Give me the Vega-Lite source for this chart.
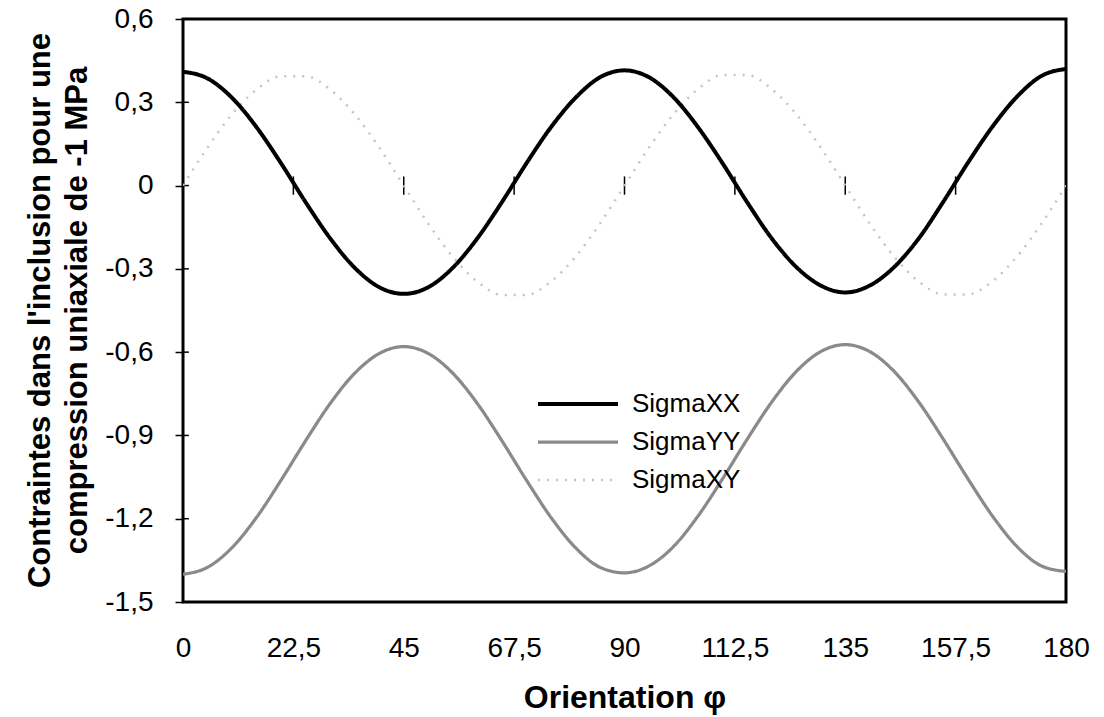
{
  "$schema": "https://vega.github.io/schema/vega-lite/v6.json",
  "width": 883,
  "height": 583,
  "autosize": {"type": "none"},
  "padding": {"left": 183, "top": 19, "right": 38, "bottom": 115},
  "background": "white",
  "config": {
    "font": "Liberation Sans",
    "view": {"stroke": "black", "strokeWidth": 3},
    "axis": {"grid": false, "domain": false, "ticks": false, "labelColor": "black", "titleColor": "black", "labelFont": "Liberation Sans", "titleFont": "Liberation Sans"}
  },
  "datasets": {
    "curves": [
      {"phi": 0, "SigmaXX": 0.41, "SigmaYY": -1.40, "SigmaXY": 0},
      {"phi": 5, "SigmaXX": 0.386, "SigmaYY": -1.375, "SigmaXY": 0.137},
      {"phi": 10, "SigmaXX": 0.316, "SigmaYY": -1.304, "SigmaXY": 0.257},
      {"phi": 15, "SigmaXX": 0.21, "SigmaYY": -1.195, "SigmaXY": 0.346},
      {"phi": 20, "SigmaXX": 0.08, "SigmaYY": -1.061, "SigmaXY": 0.394},
      {"phi": 25, "SigmaXX": -0.06, "SigmaYY": -0.919, "SigmaXY": 0.394},
      {"phi": 30, "SigmaXX": -0.19, "SigmaYY": -0.785, "SigmaXY": 0.346},
      {"phi": 35, "SigmaXX": -0.296, "SigmaYY": -0.676, "SigmaXY": 0.257},
      {"phi": 40, "SigmaXX": -0.366, "SigmaYY": -0.605, "SigmaXY": 0.137},
      {"phi": 45, "SigmaXX": -0.39, "SigmaYY": -0.58, "SigmaXY": 0},
      {"phi": 50, "SigmaXX": -0.366, "SigmaYY": -0.605, "SigmaXY": -0.137},
      {"phi": 55, "SigmaXX": -0.296, "SigmaYY": -0.676, "SigmaXY": -0.257},
      {"phi": 60, "SigmaXX": -0.19, "SigmaYY": -0.785, "SigmaXY": -0.346},
      {"phi": 65, "SigmaXX": -0.06, "SigmaYY": -0.919, "SigmaXY": -0.394},
      {"phi": 70, "SigmaXX": 0.08, "SigmaYY": -1.061, "SigmaXY": -0.394},
      {"phi": 75, "SigmaXX": 0.21, "SigmaYY": -1.195, "SigmaXY": -0.346},
      {"phi": 80, "SigmaXX": 0.316, "SigmaYY": -1.304, "SigmaXY": -0.257},
      {"phi": 85, "SigmaXX": 0.39, "SigmaYY": -1.375, "SigmaXY": -0.137},
      {"phi": 90, "SigmaXX": 0.415, "SigmaYY": -1.395, "SigmaXY": 0},
      {"phi": 95, "SigmaXX": 0.39, "SigmaYY": -1.37, "SigmaXY": 0.137},
      {"phi": 100, "SigmaXX": 0.318, "SigmaYY": -1.30, "SigmaXY": 0.257},
      {"phi": 105, "SigmaXX": 0.21, "SigmaYY": -1.19, "SigmaXY": 0.348},
      {"phi": 110, "SigmaXX": 0.08, "SigmaYY": -1.056, "SigmaXY": 0.398},
      {"phi": 115, "SigmaXX": -0.06, "SigmaYY": -0.914, "SigmaXY": 0.398},
      {"phi": 120, "SigmaXX": -0.19, "SigmaYY": -0.78, "SigmaXY": 0.348},
      {"phi": 125, "SigmaXX": -0.293, "SigmaYY": -0.67, "SigmaXY": 0.257},
      {"phi": 130, "SigmaXX": -0.36, "SigmaYY": -0.598, "SigmaXY": 0.137},
      {"phi": 135, "SigmaXX": -0.385, "SigmaYY": -0.573, "SigmaXY": 0},
      {"phi": 140, "SigmaXX": -0.36, "SigmaYY": -0.598, "SigmaXY": -0.137},
      {"phi": 145, "SigmaXX": -0.293, "SigmaYY": -0.67, "SigmaXY": -0.257},
      {"phi": 150, "SigmaXX": -0.19, "SigmaYY": -0.78, "SigmaXY": -0.346},
      {"phi": 155, "SigmaXX": -0.058, "SigmaYY": -0.914, "SigmaXY": -0.392},
      {"phi": 160, "SigmaXX": 0.082, "SigmaYY": -1.056, "SigmaXY": -0.392},
      {"phi": 165, "SigmaXX": 0.212, "SigmaYY": -1.19, "SigmaXY": -0.345},
      {"phi": 170, "SigmaXX": 0.32, "SigmaYY": -1.30, "SigmaXY": -0.256},
      {"phi": 175, "SigmaXX": 0.395, "SigmaYY": -1.37, "SigmaXY": -0.137},
      {"phi": 180, "SigmaXX": 0.42, "SigmaYY": -1.39, "SigmaXY": 0}
    ],
    "xticks": [{"t": 0}, {"t": 22.5}, {"t": 45}, {"t": 67.5}, {"t": 90}, {"t": 112.5}, {"t": 135}, {"t": 157.5}, {"t": 180}],
    "yticks": [{"v": -1.5}, {"v": -1.2}, {"v": -0.9}, {"v": -0.6}, {"v": -0.3}, {"v": 0}, {"v": 0.3}, {"v": 0.6}]
  },
  "layer": [
    {
      "mark": {"type": "rule", "color": "black", "strokeWidth": 1.5},
      "encoding": {
        "y": {"datum": 0, "type": "quantitative", "scale": {"domain": [-1.5, 0.6], "nice": false, "zero": false}}
      }
    },
    {
      "data": {"name": "xticks"},
      "mark": {"type": "rule", "color": "black", "strokeWidth": 1.5},
      "encoding": {
        "x": {"field": "t", "type": "quantitative"},
        "y": {"datum": -0.033, "type": "quantitative"},
        "y2": {"datum": 0.033}
      }
    },
    {
      "data": {"name": "yticks"},
      "mark": {"type": "rule", "color": "black", "strokeWidth": 1.5},
      "encoding": {
        "y": {"field": "v", "type": "quantitative"},
        "x": {"datum": 0, "type": "quantitative"},
        "x2": {"datum": 1.2}
      }
    },
    {
      "data": {"name": "curves"},
      "transform": [{"fold": ["SigmaXY", "SigmaYY", "SigmaXX"], "as": ["serie", "val"]}],
      "mark": {"type": "line", "interpolate": "monotone", "clip": true},
      "encoding": {
        "x": {
          "field": "phi", "type": "quantitative",
          "scale": {"domain": [0, 180], "nice": false, "zero": false},
          "axis": {
            "values": [0, 22.5, 45, 67.5, 90, 112.5, 135, 157.5, 180],
            "labelExpr": "replace(toString(datum.value), '.', ',')",
            "labelFontSize": 28, "labelPadding": 32, "labelFlush": false,
            "title": "Orientation φ", "titleFontSize": 32, "titleFontWeight": "bold", "titlePadding": 20
          }
        },
        "y": {
          "field": "val", "type": "quantitative",
          "scale": {"domain": [-1.5, 0.6], "nice": false, "zero": false},
          "axis": {
            "values": [-1.5, -1.2, -0.9, -0.6, -0.3, 0, 0.3, 0.6],
            "labelExpr": "replace(toString(datum.value), '.', ',')",
            "labelFontSize": 28, "labelPadding": 22,
            "ticks": true, "tickSize": 8, "tickWidth": 1.5, "tickColor": "black",
            "title": ["Contraintes dans l'inclusion pour une", "compression uniaxiale de -1 MPa"],
            "titleFontSize": 31, "titleFontWeight": "bold", "titleLineHeight": 37,
            "titleAngle": -90, "titleX": -143, "titleY": 291, "titleAlign": "center", "titleBaseline": "middle"
          }
        },
        "color": {
          "field": "serie", "type": "nominal",
          "scale": {"domain": ["SigmaXX", "SigmaYY", "SigmaXY"], "range": ["#000000", "#8a8a8a", "#c4c4c4"]},
          "legend": {
            "title": null, "orient": "none", "legendX": 414, "legendY": 372,
            "symbolType": "M-9,0H1", "symbolSize": 256, "labelOffset": 9,
            "labelFontSize": 26, "labelColor": "black", "labelFont": "Liberation Sans", "rowPadding": 12
          }
        },
        "strokeDash": {
          "field": "serie", "type": "nominal",
          "scale": {"domain": ["SigmaXX", "SigmaYY", "SigmaXY"], "range": [[1, 0], [1, 0], [2, 7]]},
          "legend": {"title": null}
        },
        "strokeWidth": {
          "field": "serie", "type": "nominal",
          "scale": {"domain": ["SigmaXX", "SigmaYY", "SigmaXY"], "range": [4, 2.5, 2]},
          "legend": {"title": null}
        },
        "order": {"field": "serie"}
      }
    }
  ]
}
